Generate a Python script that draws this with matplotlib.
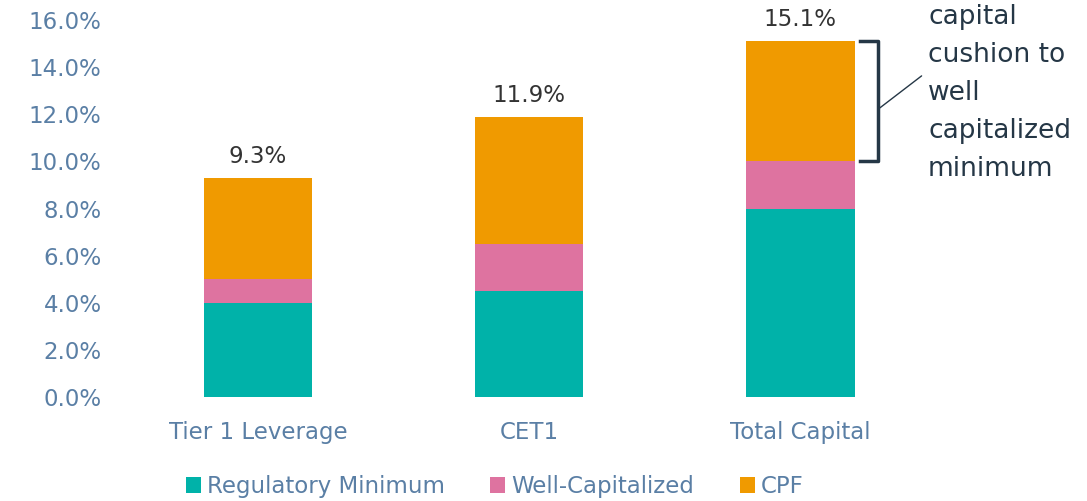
import matplotlib.pyplot as plt
import numpy as np

categories = ['Tier 1 Leverage', 'CET1', 'Total Capital']
reg_min = [4.0, 4.5, 8.0]
well_cap = [1.0, 2.0, 2.0]
cpf = [4.3, 5.4, 5.1]
totals = [9.3, 11.9, 15.1]
series_names = ['Regulatory Minimum', 'Well-Capitalized', 'CPF']
colors = ['#00B2A9', '#DE73A0', '#F09A00']

tick_color = '#5A7FA5'
dark = '#253746'

fig = plt.figure(figsize=(10.87, 5.01), dpi=100)
ax = fig.add_axes([122.5 / 1087, 1 - 397 / 501, (936 - 122.5) / 1087, (397 - 20) / 501])

x = np.arange(len(categories))
bottom = np.zeros(len(categories))
for vals, name, c in zip([reg_min, well_cap, cpf], series_names, colors):
    ax.bar(x, vals, 0.4, bottom=bottom, color=c, label=name)
    bottom += np.array(vals)

for xi, t in zip(x, totals):
    ax.text(xi, t + 0.42, f'{t:.1f}%', ha='center', va='bottom', fontsize=16.5, color='#333333')

ax.set_xlim(-0.5, 2.5)
ax.set_ylim(0, 16)
ax.set_yticks(np.arange(0, 17, 2))
ax.set_yticklabels([f'{v:.1f}%' for v in np.arange(0, 17, 2)])
ax.set_xticks(x)
ax.set_xticklabels(categories)
ax.tick_params(axis='both', length=0, labelsize=16.5, colors=tick_color)
ax.tick_params(axis='y', pad=15)
ax.tick_params(axis='x', pad=17)
for s in ax.spines.values():
    s.set_visible(False)

# bracket around the CPF segment of Total Capital
top = totals[2]
low = reg_min[2] + well_cap[2]
bx = 2.285
ax.plot([2.22, bx, bx, 2.22], [top, top, low, low], color=dark, lw=2.5,
        solid_joinstyle='round', clip_on=False)
ax.annotate('', xy=(bx, 12.2), xytext=(2.455, 13.7),
            arrowprops=dict(arrowstyle='-', color=dark, lw=1), annotation_clip=False)
fig.text(928 / 1087, 1 - 4 / 501,
         'capital\ncushion to\nwell\ncapitalized\nminimum',
         ha='left', va='top', fontsize=19, color=dark, linespacing=1.6)

leg = fig.legend(loc='lower center', bbox_to_anchor=(0.455, -0.035), ncol=3, frameon=False,
                 fontsize=16.5, handlelength=0.65, handleheight=0.65, handletextpad=0.25,
                 columnspacing=2.0)
for t in leg.get_texts():
    t.set_color(tick_color)

fig.savefig('out.png', dpi=100)
